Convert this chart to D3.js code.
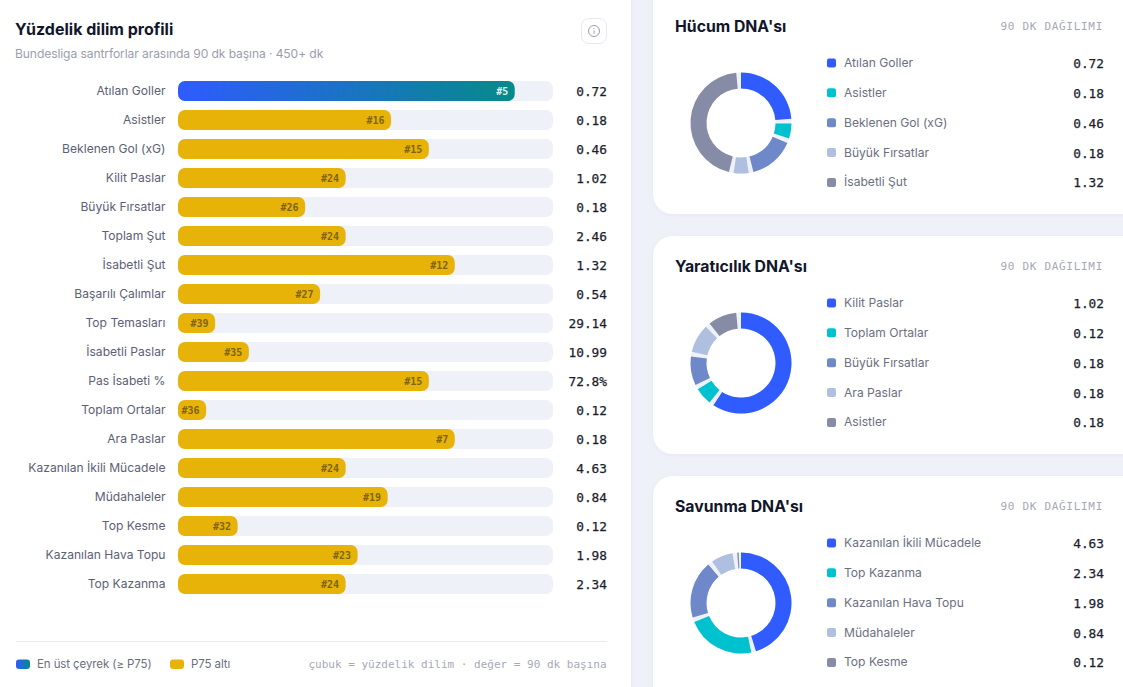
<!DOCTYPE html>
<html lang="tr">
<head>
<meta charset="utf-8">
<title>Yüzdelik dilim profili</title>
<script src="https://cdn.jsdelivr.net/npm/d3@7"></script>
<style>
	html, body { margin: 0; padding: 0; background: #eef1f8; overflow: hidden; }
	svg { display: block; }
	text { font-family: Inter, "Noto Sans", sans-serif; }
	text.mono { font-family: "DejaVu Sans Mono", "Liberation Mono", monospace; }
</style>
</head>
<body>
<svg id="chart" width="1123" height="687"></svg>
<script>
'use strict';

let metrics = ['Atılan Goller', 'Asistler', 'Beklenen Gol (xG)', 'Kilit Paslar', 'Büyük Fırsatlar', 'Toplam Şut', 'İsabetli Şut', 'Başarılı Çalımlar', 'Top Temasları', 'İsabetli Paslar', 'Pas İsabeti %', 'Toplam Ortalar', 'Ara Paslar', 'Kazanılan İkili Mücadele', 'Müdahaleler', 'Top Kesme', 'Kazanılan Hava Topu', 'Top Kazanma'];
let percentiles = [89.8, 56.8, 66.9, 44.7, 33.9, 44.7, 73.8, 37.9, 9.9, 18.9, 66.9, 7.5, 73.8, 44.7, 55.9, 15.9, 47.9, 44.7];
let ranks = [5, 16, 15, 24, 26, 24, 12, 27, 39, 35, 15, 36, 7, 24, 19, 32, 23, 24];
let metricValues = ['0.72', '0.18', '0.46', '1.02', '0.18', '2.46', '1.32', '0.54', '29.14', '10.99', '72.8%', '0.12', '0.18', '4.63', '0.84', '0.12', '1.98', '2.34'];

let attackLabels = ['Atılan Goller', 'Asistler', 'Beklenen Gol (xG)', 'Büyük Fırsatlar', 'İsabetli Şut'];
let attackValues = [0.72, 0.18, 0.46, 0.18, 1.32];
let creativeLabels = ['Kilit Paslar', 'Toplam Ortalar', 'Büyük Fırsatlar', 'Ara Paslar', 'Asistler'];
let creativeValues = [1.02, 0.12, 0.18, 0.18, 0.18];
let defenceLabels = ['Kazanılan İkili Mücadele', 'Top Kazanma', 'Kazanılan Hava Topu', 'Müdahaleler', 'Top Kesme'];
let defenceValues = [4.63, 2.34, 1.98, 0.84, 0.12];

let sliceColors = ['#2f5bff', '#00c2cf', '#6f88c9', '#aebfe0', '#868ca6'];
let bgColor = '#eef1f8';

let svg = d3.select('#chart');

let defs = svg.append('defs');
let grad = defs.append('linearGradient').attr('id', 'topGrad');
grad.append('stop').attr('offset', '0%').attr('stop-color', '#2f5bff');
grad.append('stop').attr('offset', '100%').attr('stop-color', '#068a8a');

let shadow = defs.append('filter').attr('id', 'cardShadow')
	.attr('x', '-5%').attr('y', '-5%').attr('width', '110%').attr('height', '110%');
shadow.append('feDropShadow')
	.attr('dx', 0).attr('dy', 1).attr('stdDeviation', 2)
	.attr('flood-color', '#8a94b8').attr('flood-opacity', 0.1);

// cards
svg.append('rect').attr('x', -30).attr('y', -30).attr('width', 661).attr('height', 747)
	.attr('rx', 22).attr('fill', '#fff').attr('filter', 'url(#cardShadow)');

[[-30, 244], [236, 218], [476, 260]].forEach(function(c) {
	svg.append('rect').attr('x', 653).attr('y', c[0]).attr('width', 520).attr('height', c[1])
		.attr('rx', 20).attr('fill', '#fff').attr('filter', 'url(#cardShadow)');
});

// left panel header
svg.append('text').attr('x', 15).attr('y', 35)
	.attr('font-size', 16).attr('font-weight', 700).attr('fill', '#12162a')
	.text('Yüzdelik dilim profili');
svg.append('text').attr('x', 15).attr('y', 58)
	.attr('font-size', 12.1).attr('fill', '#9a9eac').attr('letter-spacing', -0.1)
	.text('Bundesliga santrforlar arasında 90 dk başına · 450+ dk');

let infoBtn = svg.append('g').attr('transform', 'translate(594,31)');
infoBtn.append('rect').attr('x', -12.5).attr('y', -12.5).attr('width', 25).attr('height', 25)
	.attr('rx', 7).attr('fill', '#fff').attr('stroke', '#e6e8ef');
infoBtn.append('circle').attr('r', 5.5).attr('fill', 'none').attr('stroke', '#9a9eac');
infoBtn.append('line').attr('y1', -0.5).attr('y2', 2.8).attr('stroke', '#9a9eac');
infoBtn.append('circle').attr('cy', -2.5).attr('r', 0.6).attr('fill', '#9a9eac');

// percentile bars
let x = d3.scaleLinear().domain([0, 100]).range([178, 553]);
let y = d3.scalePoint().domain(metrics).range([91, 584]);
let barH = 20;

let row = svg.append('g').selectAll('g').data(metrics).join('g')
	.attr('transform', d => `translate(0,${y(d)})`);

row.append('text').attr('x', 165.5).attr('y', 4)
	.attr('text-anchor', 'end').attr('font-size', 12.1).attr('fill', '#5c6074')
	.text(d => d);

row.append('rect').attr('x', x(0)).attr('y', -barH / 2)
	.attr('width', x(100) - x(0)).attr('height', barH).attr('rx', 7)
	.attr('fill', bgColor);

row.append('rect').attr('x', x(0)).attr('y', -barH / 2)
	.attr('width', (d, i) => x(percentiles[i]) - x(0)).attr('height', barH).attr('rx', 7)
	.attr('fill', (d, i) => percentiles[i] >= 75 ? 'url(#topGrad)' : '#e8b308');

row.append('text').attr('class', 'mono').attr('x', (d, i) => x(percentiles[i]) - 6.5).attr('y', 3.7)
	.attr('text-anchor', 'end').attr('font-size', 10).attr('font-weight', 700)
	.attr('fill', (d, i) => percentiles[i] >= 75 ? '#d9f2f2' : '#7d6410')
	.text((d, i) => '#' + ranks[i]);

row.append('text').attr('class', 'mono').attr('x', 607).attr('y', 4.5)
	.attr('text-anchor', 'end').attr('font-size', 12.8)
	.attr('fill', '#1a1d2e').attr('stroke', '#1a1d2e').attr('stroke-width', 0.25)
	.text((d, i) => metricValues[i]);

// footer
svg.append('line').attr('x1', 16).attr('x2', 607).attr('y1', 641.5).attr('y2', 641.5).attr('stroke', '#e9ebf1');

let footItems = [
	{x: 16, fill: 'url(#topGrad)', label: 'En üst çeyrek (≥ P75)'},
	{x: 170, fill: '#e8b308', label: 'P75 altı'}
];
footItems.forEach(function(f) {
	svg.append('rect').attr('x', f.x).attr('y', 659.5).attr('width', 14).attr('height', 9.5).attr('rx', 3).attr('fill', f.fill);
	svg.append('text').attr('x', f.x + 21).attr('y', 668)
		.attr('font-size', 11.5).attr('fill', '#6b6f80').attr('letter-spacing', -0.1).text(f.label);
});
svg.append('text').attr('class', 'mono').attr('x', 606.5).attr('y', 668)
	.attr('text-anchor', 'end').attr('font-size', 11).attr('fill', '#a5a9b6')
	.text('çubuk = yüzdelik dilim · değer = 90 dk başına');

// donut cards
let pie = d3.pie().sort(null);
let arc = d3.arc().innerRadius(34.5).outerRadius(50.5);
let gapAngle = 0.095;
let minSlice = 0.03;

function drawDonutCard(title, labels, values, top) {
	let g = svg.append('g').attr('transform', `translate(0,${top})`);

	g.append('text').attr('x', 675).attr('y', 32)
		.attr('font-size', 15.8).attr('font-weight', 700).attr('fill', '#12162a').text(title);
	g.append('text').attr('class', 'mono').attr('x', 1103).attr('y', 30)
		.attr('text-anchor', 'end').attr('font-size', 11).attr('letter-spacing', 0.7).attr('fill', '#a5a9b6')
		.text('90 DK DAĞILIMI');

	let donut = g.append('g').attr('transform', 'translate(741,123)');

	// light ring shows through between the slices
	donut.append('path')
		.attr('d', arc({startAngle: 0, endAngle: 2 * Math.PI}))
		.attr('fill', bgColor);

	donut.selectAll('path.slice').data(pie(values)).join('path')
		.attr('class', 'slice')
		.attr('d', d => arc({
			startAngle: d.startAngle,
			endAngle: Math.max(d.endAngle - gapAngle, d.startAngle + minSlice)
		}))
		.attr('fill', (d, i) => sliceColors[i]);

	let ly = d3.scalePoint().domain(labels).range([63, 182.4]);
	let item = g.append('g').selectAll('g').data(labels).join('g')
		.attr('transform', d => `translate(0,${ly(d)})`);

	item.append('rect').attr('x', 827).attr('y', -4.5).attr('width', 9).attr('height', 9).attr('rx', 2)
		.attr('fill', (d, i) => sliceColors[i]);
	item.append('text').attr('x', 844).attr('y', 4)
		.attr('font-size', 12.1).attr('fill', '#6b6f80').text(d => d);
	item.append('text').attr('class', 'mono').attr('x', 1104).attr('y', 5)
		.attr('text-anchor', 'end').attr('font-size', 12.8)
		.attr('fill', '#1a1d2e').attr('stroke', '#1a1d2e').attr('stroke-width', 0.25)
		.text((d, i) => values[i].toFixed(2));
}

drawDonutCard("Hücum DNA'sı", attackLabels, attackValues, 0);
drawDonutCard("Yaratıcılık DNA'sı", creativeLabels, creativeValues, 240);
drawDonutCard("Savunma DNA'sı", defenceLabels, defenceValues, 480);
</script>
</body>
</html>
